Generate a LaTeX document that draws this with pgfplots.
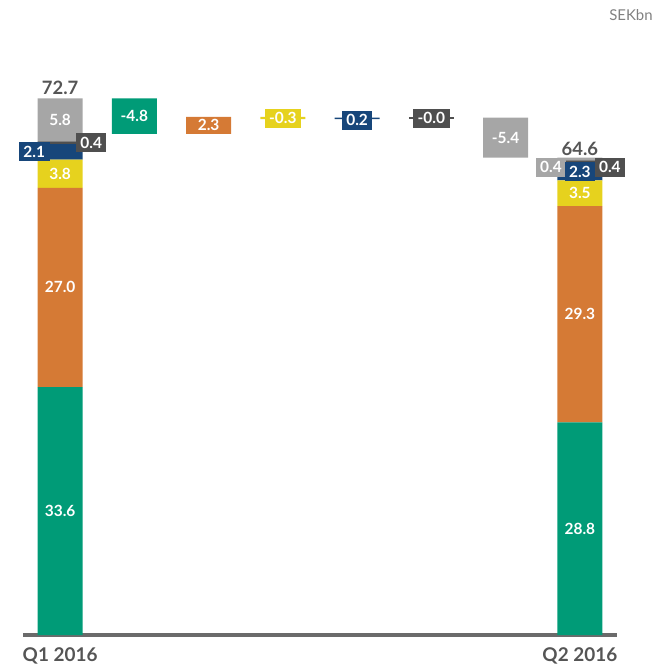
\documentclass[border=0pt]{standalone}
\usepackage{pgfplots}
\pgfplotsset{compat=1.18}
\usepackage{pgfplotstable}
\usepackage{fontspec}
\setmainfont{Lato}
\definecolor{cgreen}{HTML}{009B77}
\definecolor{corange}{HTML}{D57A35}
\definecolor{cyellow}{HTML}{E6D21E}
\definecolor{cnavy}{HTML}{17467A}
\definecolor{cdgray}{HTML}{4F4F4F}
\definecolor{clgray}{HTML}{A6A6A6}
\definecolor{axisgray}{HTML}{6B6B6B}
\definecolor{txtgray}{HTML}{555555}
\pgfplotstableread{
x base green orange yellow navy dgray lgray
0 0    33.6  27.0  3.8  2.1  0.4  5.8
1 67.9 4.8   0     0    0    0    0
2 67.9 0     2.3   0    0    0    0
3 69.9 0     0     0.3  0    0    0
4 69.9 0     0     0    0.2  0    0
5 70.1 0     0     0    0    0    0
6 64.7 0     0     0    0    0    5.4
7 0    28.8  29.3  3.5  2.3  0.4  0.4
}\data
\tikzset{
 lab/.style={text=white, font=\fontsize{15.5}{18}\selectfont\bfseries, inner xsep=4.5bp, inner ysep=4bp, text height=11bp, text depth=0bp},
 tot/.style={text=txtgray, font=\fontsize{18.5}{22}\selectfont\bfseries},
}
\pgfplotsset{
 samebox/.style={at={(0,0)}, anchor=south west, scale only axis,
 width=594bp, height=590.4bp,
 xmin=-0.5, xmax=7.5, ymin=0, ymax=80, clip=false},
}
\begin{document}
\begin{tikzpicture}
\path[use as bounding box] (-23bp,-34bp) rectangle (648bp,635bp);
% axis for the zero-height bar
\begin{axis}[samebox, axis lines=none]
\addplot[cdgray, line width=1.8bp] coordinates {(4.697,70.1) (5.303,70.1)};
\end{axis}
\begin{axis}[samebox,
 ybar stacked, bar width=45bp,
 axis x line*=bottom, axis y line=none,
 x axis line style={-, line width=3bp, draw=axisgray},
 xtick={0,7}, xticklabels={Q1 2016, Q2 2016},
 major tick length=0pt,
 xticklabel style={font=\fontsize{19}{23}\selectfont\bfseries, text=txtgray, anchor=north, yshift=-9bp},
 ytick=\empty,
]
\addplot[draw=none, fill=none] table[x=x,y=base]{\data};
\addplot[draw=none, fill=cgreen] table[x=x,y=green]{\data};
\addplot[draw=none, fill=corange] table[x=x,y=orange]{\data};
\addplot[draw=none, fill=cyellow] table[x=x,y=yellow]{\data};
\addplot[draw=none, fill=cnavy] table[x=x,y=navy]{\data};
\addplot[draw=none, fill=cdgray] table[x=x,y=dgray]{\data};
\addplot[draw=none, fill=clgray] table[x=x,y=lgray]{\data};
\end{axis}
% labels on top
\begin{axis}[samebox, axis lines=none]
% Q1 labels
\node[lab] at (0,16.8) {33.6};
\node[lab] at (0,47.1) {27.0};
\node[lab] at (0,62.5) {3.8};
\node[lab] at (0,69.8) {5.8};
\node[lab, fill=cnavy, anchor=east] at (-0.14,65.45) {2.1};
\node[lab, fill=cdgray, anchor=west] at (0.21,66.7) {0.4};
\node[tot] at (0,74.1) {72.7};
% bridge labels
\node[lab] at (1,70.3) {-4.8};
\node[lab] at (2,69.05) {2.3};
\node[lab, fill=cyellow] at (3,70.05) {-0.3};
\node[lab, fill=cnavy] at (4,69.75) {0.2};
\node[lab, fill=cdgray] at (5,70.0) {-0.0};
\node[lab] at (6,67.4) {-5.4};
% Q2 labels
\node[lab] at (7,14.4) {28.8};
\node[lab] at (7,43.45) {29.3};
\node[lab] at (7,59.85) {3.5};
\node[lab, fill=clgray, anchor=east] at (6.82,63.4) {0.4};
\node[lab, fill=cdgray, anchor=west] at (7.195,63.35) {0.4};
\node[lab, fill=cnavy] at (7,62.8) {2.3};
\node[tot] at (7,65.85) {64.6};
\end{axis}
\node[text=gray, font=\fontsize{15}{18}\selectfont] at (608bp,620bp) {SEKbn};
\end{tikzpicture}
\end{document}
